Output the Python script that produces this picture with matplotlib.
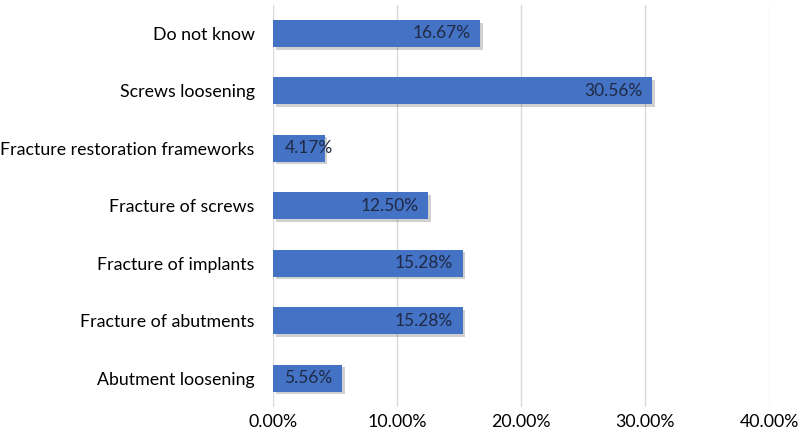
import matplotlib.pyplot as plt
import matplotlib.patheffects as pe
from matplotlib.ticker import FuncFormatter

# Reasons reported, bottom to top
categories = ['Abutment loosening', 'Fracture of abutments', 'Fracture of implants',
              'Fracture of screws', 'Fracture restoration frameworks',
              'Screws loosening', 'Do not know']
percents = [5.56, 15.28, 15.28, 12.50, 4.17, 30.56, 16.67]

plt.rcParams['font.family'] = ['Lato', 'DejaVu Sans']

fig = plt.figure(figsize=(8, 4.4), dpi=100)
ax = fig.add_axes([0.341, 0.0756, 0.621, 0.914])

bars = ax.barh(range(len(categories)), percents, height=0.47, color='#4472C4',
               zorder=3)
for b in bars:
    b.set_path_effects([pe.SimplePatchShadow(offset=(2, -2), alpha=0.25,
                                             shadow_rgbFace='#444444'),
                        pe.Normal()])

# value labels at the inside end; short bars get the label pushed out
for i, v in enumerate(percents):
    if v < 5:
        ax.text(1.0, i, f'{v:.2f}%', ha='left', va='center', fontsize=12.5,
                color='#1f2a44', zorder=4)
    else:
        ax.text(v - 0.75, i, f'{v:.2f}%', ha='right', va='center', fontsize=12.5,
                color='#1f2a44', zorder=4)

ax.set_xlim(0, 40)
ax.set_ylim(-0.5, len(categories) - 0.5)
ax.set_xticks([0, 10, 20, 30, 40])
ax.xaxis.set_major_formatter(FuncFormatter(lambda x, p: f'{x:.2f}%'))
ax.set_yticks(range(len(categories)))
ax.set_yticklabels(categories)
ax.tick_params(axis='both', length=0, labelsize=12.8, colors='black')
ax.tick_params(axis='x', pad=5)
ax.tick_params(axis='y', pad=13)
ax.grid(axis='x', color='#d9d9d9', linewidth=1, zorder=0)
for s in ax.spines.values():
    s.set_visible(False)

fig.savefig('out.png', dpi=100)
